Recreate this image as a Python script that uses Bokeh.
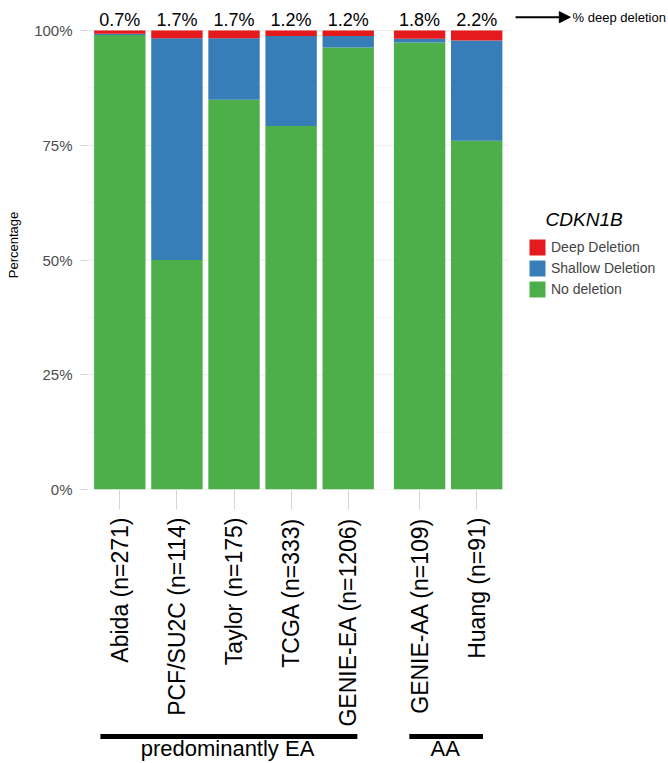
import math
from bokeh.plotting import figure
from bokeh.layouts import column
from bokeh.models import (ColumnDataSource, FixedTicker, Label, LabelSet, Arrow,
                          NormalHead, Legend, LegendItem, Range1d)
from bokeh.core.properties import value
from bokeh.embed import file_html
from bokeh.resources import INLINE

# ---------------- data ----------------
studies = ["Abida (n=271)", "PCF/SU2C (n=114)", "Taylor (n=175)", "TCGA (n=333)",
           "GENIE-EA (n=1206)", "GENIE-AA (n=109)", "Huang (n=91)"]
groups = ["EA", "EA", "EA", "EA", "EA", "AA", "AA"]
deep = [0.7, 1.7, 1.7, 1.2, 1.2, 1.8, 2.2]
shallow = [0.3, 48.3, 13.4, 19.6, 2.5, 0.8, 21.8]
no_del = [99.0, 50.0, 84.9, 79.2, 96.3, 97.4, 76.0]
series_names = ["No deletion", "Shallow Deletion", "Deep Deletion"]
ytick_values = [0, 25, 50, 75, 100]
ytick_minor = [12.5, 37.5, 62.5, 87.5]
ytick_labels = ["0%", "25%", "50%", "75%", "100%"]
group_labels = ["predominantly EA", "AA"]

FONT = "Liberation Sans"
GREEN, BLUE, RED = "#4DAF4A", "#377EB8", "#E41A1C"

# ---------------- layout constants ----------------
W = 668
LEFT = 87            # y-axis panel width
PPU = 57.1           # pixels per category unit
X_START = -0.566     # data x at frame left
X_END = X_START + (W - LEFT) / PPU
PANEL_RIGHT = 6.82   # right end of the plotting panel (grid lines)
FRAME_H = 489        # pixels from top to the 0% line
PPY = 4.59           # pixels per percent
Y_END = FRAME_H / PPY
BOTTOM = 240
MAIN_H = FRAME_H + BOTTOM
SUB_H = 763 - MAIN_H

# positions: one unit per study, extra gap between groups
GROUP_GAP = 0.25
xpos = []
k = 0
for i, g in enumerate(groups):
    if i > 0 and g != groups[i - 1]:
        k += 1
    xpos.append(i + GROUP_GAP * k)

src = ColumnDataSource(dict(x=xpos, none=no_del, shallow=shallow, deep=deep,
                            lab=[f"{d}%" for d in deep]))

p = figure(width=W, height=MAIN_H, x_range=Range1d(X_START, X_END),
           y_range=Range1d(0, Y_END), output_backend="svg", toolbar_location=None,
           min_border_left=LEFT, min_border_right=0, min_border_top=0,
           min_border_bottom=BOTTOM)
p.outline_line_color = None
p.background_fill_color = "white"
p.xgrid.visible = False
p.ygrid.visible = False

# grid lines limited to the plotting panel
p.segment(x0=X_START, x1=PANEL_RIGHT, y0=ytick_minor, y1=ytick_minor,
          line_color="#f3f3f3", line_width=1)
p.segment(x0=X_START, x1=PANEL_RIGHT, y0=ytick_values, y1=ytick_values,
          line_color="#ebebeb", line_width=1)

rs = p.vbar_stack(["none", "shallow", "deep"], x="x", width=0.9, source=src,
                  fill_color=[GREEN, BLUE, RED], line_color=None)

# axes
p.xaxis.ticker = FixedTicker(ticks=xpos)
p.xaxis.major_label_overrides = {x: s for x, s in zip(xpos, studies)}
p.xaxis.major_label_orientation = math.pi / 2
p.xaxis.major_label_text_font = FONT
p.xaxis.major_label_text_font_size = "23px"
p.xaxis.major_label_text_color = "black"
p.xaxis.major_label_standoff = 8
p.xaxis.major_tick_out = 20
p.xaxis.major_tick_in = 0
p.xaxis.major_tick_line_color = "#d6d6d6"
p.xaxis.minor_tick_line_color = None
p.xaxis.axis_line_color = None

p.yaxis.ticker = FixedTicker(ticks=ytick_values)
p.yaxis.major_label_overrides = {v: s for v, s in zip(ytick_values, ytick_labels)}
p.yaxis.major_label_text_font = FONT
p.yaxis.major_label_text_font_size = "15px"
p.yaxis.major_label_text_color = "#4d4d4d"
p.yaxis.major_label_standoff = 8
p.yaxis.major_tick_out = 7
p.yaxis.major_tick_in = 0
p.yaxis.major_tick_line_color = "#d6d6d6"
p.yaxis.minor_tick_line_color = None
p.yaxis.axis_line_color = None
p.yaxis.axis_label = "Percentage"
p.yaxis.axis_label_text_font = FONT
p.yaxis.axis_label_text_font_size = "13px"
p.yaxis.axis_label_text_font_style = "normal"
p.yaxis.axis_label_text_color = "black"
p.yaxis.axis_label_standoff = 10

# % deep deletion labels above bars
p.add_layout(LabelSet(x="x", y=102.2, text="lab", source=src, text_align="center",
                      text_baseline="middle", text_font=value(FONT),
                      text_font_size="18px", text_color="black"))
p.add_layout(Arrow(x_start=6.93, y_start=102.9, x_end=7.89, y_end=102.9,
                   line_width=2, line_color="black",
                   end=NormalHead(size=11, fill_color="black", line_color="black")))
p.add_layout(Label(x=7.93, y=102.8, text="% deep deletion", text_baseline="middle",
                   text_font=FONT, text_font_size="13px", text_color="black"))

# legend
p.add_layout(Label(x=7.456, y=58.8, text="CDKN1B", text_baseline="middle",
                   text_font=FONT, text_font_size="19px", text_font_style="italic",
                   text_color="black"))
legend = Legend(items=[LegendItem(label=series_names[2], renderers=[rs[2]]),
                       LegendItem(label=series_names[1], renderers=[rs[1]]),
                       LegendItem(label=series_names[0], renderers=[rs[0]])],
                location=(440, 190), glyph_width=20, glyph_height=20, label_height=20,
                label_standoff=4, spacing=1, padding=0, margin=0,
                border_line_color=None, background_fill_alpha=0,
                label_text_font=FONT, label_text_font_size="14px")
p.add_layout(legend)

# ---------------- group annotations (strip below, frame aligned with p) ----------------
p2 = figure(width=W, height=SUB_H, x_range=p.x_range,
            y_range=Range1d(SUB_H, 0), output_backend="svg", toolbar_location=None,
            x_axis_location=None, y_axis_location=None,
            min_border_left=LEFT, min_border_right=0, min_border_top=0, min_border_bottom=0)
p2.outline_line_color = None
p2.xgrid.visible = False
p2.ygrid.visible = False

group_starts = [-0.34, 5.07]
group_ends = [4.16, 6.36]
group_centers = [1.886, 5.70]
p2.segment(x0=group_starts, x1=group_ends, y0=7, y1=7, line_width=5, line_color="black")
p2.text(x=group_centers, y=19, text=group_labels, text_align="center",
        text_baseline="middle", text_font=value(FONT), text_font_size="22px",
        text_color="black")

layout = column(p, p2, spacing=0)
open("out.html", "w").write(file_html(layout, INLINE))
